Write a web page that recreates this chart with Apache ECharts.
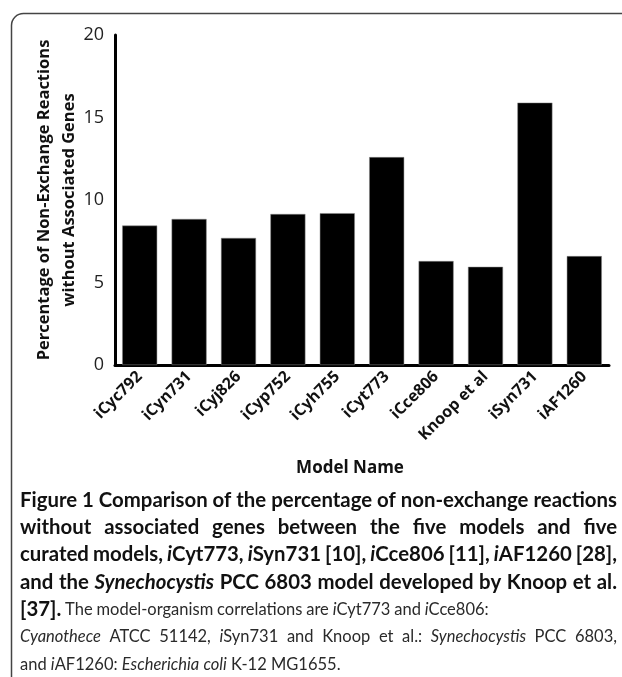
<!DOCTYPE html>
<html>
<head>
<meta charset="utf-8">
<script src="https://cdn.jsdelivr.net/npm/echarts@6/dist/echarts.min.js"></script>
<style>
html,body{margin:0;padding:0;background:#fff;}
#chart{width:622px;height:677px;}
</style>
</head>
<body>
<div id="chart"></div>
<script>
// ---- data ----
const categories = ['iCyc792','iCyn731','iCyj826','iCyp752','iCyh755','iCyt773','iCce806','Knoop et al','iSyn731','iAF1260'];
const values = [8.45, 8.85, 7.7, 9.15, 9.2, 12.6, 6.3, 5.95, 15.9, 6.6];
const yMin = 0, yMax = 20, yStep = 5;
const yTitle = 'Percentage of Non-Exchange Reactions\nwithout Associated Genes';
const xTitle = 'Model Name';

// caption: lines of words; each word = list of [text, style] runs (b, bi, r, ri)
const captionLines = [
  {justify:true, words:[[['Figure','b']],[['1','b']],[['Comparison','b']],[['of','b']],[['the','b']],[['percentage','b']],[['of','b']],[['non-exchange','b']],[['reactions','b']]]},
  {justify:true, words:[[['without','b']],[['associated','b']],[['genes','b']],[['between','b']],[['the','b']],[['five','b']],[['models','b']],[['and','b']],[['five','b']]]},
  {justify:true, words:[[['curated','b']],[['models,','b']],[['i','bi'],['Cyt773,','b']],[['i','bi'],['Syn731','b']],[['[10],','b']],[['i','bi'],['Cce806','b']],[['[11],','b']],[['i','bi'],['AF1260','b']],[['[28],','b']]]},
  {justify:true, words:[[['and','b']],[['the','b']],[['Synechocystis','bi']],[['PCC','b']],[['6803','b']],[['model','b']],[['developed','b']],[['by','b']],[['Knoop','b']],[['et','b']],[['al.','b']]]},
  {justify:false, words:[[['[37].','b']],[['The','r']],[['model-organism','r']],[['correlations','r']],[['are','r']],[['i','ri'],['Cyt773','r']],[['and','r']],[['i','ri'],['Cce806:','r']]]},
  {justify:true, words:[[['Cyanothece','ri']],[['ATCC','r']],[['51142,','r']],[['i','ri'],['Syn731','r']],[['and','r']],[['Knoop','r']],[['et','r']],[['al.:','r']],[['Synechocystis','ri']],[['PCC','r']],[['6803,','r']]]},
  {justify:false, words:[[['and','r']],[['i','ri'],['AF1260:','r']],[['Escherichia','ri']],[['coli','ri']],[['K-12','r']],[['MG1655.','r']]]}
];

// ---- caption layout ----
const capFamily = 'Lato';
const capLeft = 20, capRight = 617, capTop = 500, capLineH = 27.4;
const mctx = document.createElement('canvas').getContext('2d');
function isItalic(st){ return st==='bi' || st==='ri'; }
function isBold(st){ return st[0]==='b'; }
let capSize = 17, regSize = 16.5, regSX = 1;
function sizeOf(st){ return isBold(st) ? capSize : regSize; }
function sxOf(st){ return isBold(st) ? 1 : regSX; }
function measure(text, st){
  mctx.font = (isItalic(st)?'italic ':'') + (isBold(st)?'bold ':'') + sizeOf(st) + 'px ' + capFamily;
  return mctx.measureText(text).width * sxOf(st);
}
function wordWidth(w){ return w.reduce((s,r)=>s+measure(r[0], r[1]), 0); }
function lineNatural(l){
  return l.words.reduce((s,w)=>s+wordWidth(w),0) + (l.words.length-1)*measure(' ', l.words[l.words.length-1][0][1]);
}
(function(){
  const target = capRight - capLeft;
  capSize = 17 * target / lineNatural(captionLines[0]);
  regSX = 1;
  const n6 = lineNatural(captionLines[5]);
  regSX = Math.min(1, (target - 4) / n6);
})();
const captionGraphics = [];
captionLines.forEach((line, li) => {
  const y = capTop + li*capLineH;
  const widths = line.words.map(w => wordWidth(w));
  const total = widths.reduce((a,b)=>a+b,0);
  let gap = measure(' ', line.words[line.words.length-1][0][1]);
  if (line.justify && line.words.length>1) gap = (capRight - capLeft - total)/(line.words.length-1);
  let x = capLeft;
  line.words.forEach((w, wi) => {
    let rx = x;
    w.forEach(r => {
      const st = r[1];
      captionGraphics.push({
        type:'text', x: rx, y: y, scaleX: sxOf(st), silent:true,
        style:{text:r[0], fontFamily:capFamily, fontSize:sizeOf(st),
          fontWeight: isBold(st)?'bold':'normal', fontStyle: isItalic(st)?'italic':'normal',
          fill: isBold(st) ? '#111' : '#2a2a2a', textAlign:'left', textVerticalAlign:'middle'}
      });
      rx += measure(r[0], st);
    });
    x += widths[wi] + gap;
  });
});

const chart = echarts.init(document.getElementById('chart'), null, {renderer:'canvas'});
chart.setOption({
  backgroundColor:'#fff',
  animation:false,
  grid:{left:115, right:13, top:35, bottom:312, containLabel:false},
  xAxis:{
    type:'category', data:categories,
    axisLine:{show:true, lineStyle:{color:'#000', width:3}},
    axisTick:{show:false},
    axisLabel:{rotate:45, interval:0, margin:9, fontFamily:'Open Sans', fontWeight:'bold', fontSize:16, color:'#111'}
  },
  yAxis:{
    type:'value', min:yMin, max:yMax, interval:yStep,
    name:yTitle, nameLocation:'middle', nameGap:33, nameMoveOverlap:false,
    nameTextStyle:{fontFamily:'Open Sans', fontWeight:'bold', fontSize:16.5, color:'#111', lineHeight:25, align:'center'},
    axisLine:{show:true, lineStyle:{color:'#000', width:3}},
    axisTick:{show:false},
    splitLine:{show:false},
    axisLabel:{margin:11, fontFamily:'Open Sans', fontSize:18, color:'#222'}
  },
  series:[{
    type:'bar', data:values, barWidth:35,
    itemStyle:{color:'#000', borderColor:'#888', borderWidth:0.5},
    silent:true
  }],
  graphic:[
    {type:'rect', silent:true, z:-1, shape:{x:11.5, y:13.5, width:700, height:700, r:12},
      style:{fill:'none', stroke:'#444', lineWidth:1.5}},
    {type:'text', x:350, y:468, silent:true,
      style:{text:xTitle, fontFamily:'Open Sans', fontWeight:'bold', fontSize:17, fill:'#111', textAlign:'center', textVerticalAlign:'middle'}}
  ].concat(captionGraphics)
});
</script>
</body>
</html>
